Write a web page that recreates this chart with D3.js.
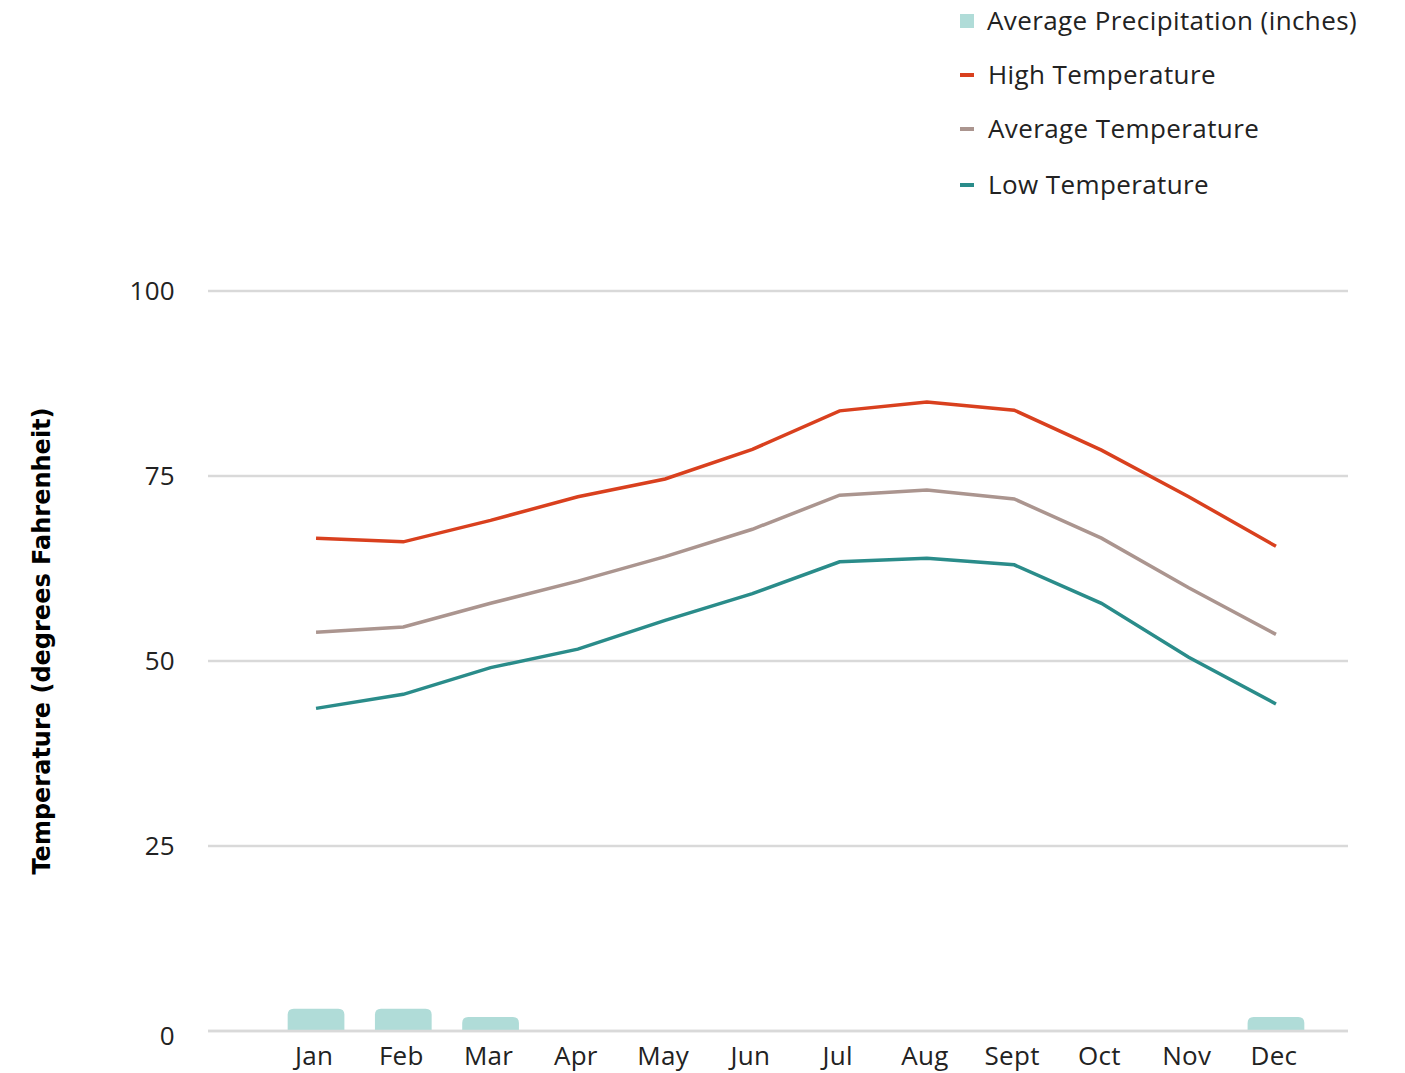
<!DOCTYPE html>
<html>
  <head>
    <meta charset="utf-8">
    <script src="https://d3js.org/d3.v7.min.js"></script>
    <style>
      body { margin: 0; background: #fff; }
      text { font-family: 'Open Sans', Lato, sans-serif; fill: #222; }
    </style>
  </head>
  <body>
    <svg></svg>
    <script type="text/javascript">
      const months = ['Jan', 'Feb', 'Mar', 'Apr', 'May', 'Jun', 'Jul', 'Aug', 'Sept', 'Oct', 'Nov', 'Dec']
      const highTemp = [66.6, 66.1, 69.0, 72.2, 74.6, 78.6, 83.8, 85.0, 83.9, 78.5, 72.2, 65.5]
      const avgTemp = [53.9, 54.6, 57.8, 60.8, 64.1, 67.8, 72.4, 73.1, 71.9, 66.6, 59.9, 53.6]
      const lowTemp = [43.6, 45.5, 49.1, 51.6, 55.5, 59.1, 63.4, 63.9, 63.0, 57.8, 50.5, 44.2]
      const precip = [3.0, 3.0, 1.9, 0, 0, 0, 0, 0, 0, 0, 0, 1.9]
      const yTicks = [0, 25, 50, 75, 100]

      const width = 1405
      const height = 1073

      const svg =
        d3.select('svg')
          .attr('width', width)
          .attr('height', height)

      const x =
        d3.scaleBand()
          .domain(months)
          .range([272.4, 1319.6])
          .paddingInner(0.35)
          .paddingOuter(0.175)

      const y =
        d3.scaleLinear()
          .domain([0, 100])
          .range([1031, 291])

      const cx = m => x(m) + x.bandwidth() / 2

      // gridlines + y labels
      svg.selectAll('.grid')
        .data(yTicks)
        .enter()
        .append('line')
          .attr('class', 'grid')
          .attr('x1', 208)
          .attr('x2', 1348)
          .attr('y1', d => y(d))
          .attr('y2', d => y(d))
          .attr('stroke', '#d9d9d9')
          .attr('stroke-width', 2.5)

      svg.selectAll('.y_label')
        .data(yTicks)
        .enter()
        .append('text')
          .attr('class', 'y_label')
          .attr('x', 175)
          .attr('y', d => y(d) + (d === 0 ? 5 : 0))
          .attr('dy', '0.35em')
          .attr('text-anchor', 'end')
          .attr('font-size', 26)
          .attr('letter-spacing', 0.3)
          .text(d => d)

      svg.append('text')
        .attr('transform', 'translate(50,641) rotate(-90)')
        .attr('text-anchor', 'middle')
        .attr('font-size', 24)
        .attr('font-weight', 'bold')
        .style('font-family', "'DejaVu Sans', sans-serif")
        .style('fill', '#000')
        .text('Temperature (degrees Fahrenheit)')

      // precipitation bars (rounded top)
      const r = 6
      svg.selectAll('.bar')
        .data(months.map((m, i) => ({m, v: precip[i]})).filter(d => d.v > 0))
        .enter()
        .append('path')
          .attr('class', 'bar')
          .attr('fill', '#b0dcd8')
          .attr('d', d => {
            const x0 = x(d.m), x1 = x0 + x.bandwidth()
            const y0 = y(0), y1 = y(d.v)
            return `M${x0},${y0}V${y1 + r}Q${x0},${y1} ${x0 + r},${y1}H${x1 - r}Q${x1},${y1} ${x1},${y1 + r}V${y0}Z`
          })

      // baseline redrawn over bars
      svg.append('line')
        .attr('x1', 208).attr('x2', 1348)
        .attr('y1', y(0)).attr('y2', y(0))
        .attr('stroke', '#d9d9d9')
        .attr('stroke-width', 2.5)

      const series = [
        {name: 'High Temperature', values: highTemp, color: '#d9401e'},
        {name: 'Average Temperature', values: avgTemp, color: '#ab958f'},
        {name: 'Low Temperature', values: lowTemp, color: '#2a8c8a'}
      ]

      const line =
        d3.line()
          .x((d, i) => cx(months[i]))
          .y(d => y(d))

      svg.selectAll('.series')
        .data(series)
        .enter()
        .append('path')
          .attr('class', 'series')
          .attr('fill', 'none')
          .attr('stroke', d => d.color)
          .attr('stroke-width', 3.5)
          .attr('d', d => line(d.values))

      // x labels
      svg.selectAll('.x_label')
        .data(months)
        .enter()
        .append('text')
          .attr('class', 'x_label')
          .attr('x', d => cx(d) - 2)
          .attr('y', 1056)
          .attr('dy', '0.35em')
          .attr('text-anchor', 'middle')
          .attr('font-size', 26)
          .attr('letter-spacing', 0.3)
          .text(d => d)

      // legend
      const legend = [
        {label: 'Average Precipitation (inches)', color: '#b0dcd8', y: 21, box: true},
        {label: 'High Temperature', color: '#d9401e', y: 75},
        {label: 'Average Temperature', color: '#ab958f', y: 129},
        {label: 'Low Temperature', color: '#2a8c8a', y: 185}
      ]

      const lg = svg.selectAll('.legend')
        .data(legend)
        .enter()
        .append('g')
          .attr('class', 'legend')
          .attr('transform', d => `translate(960,${d.y})`)

      lg.append('rect')
        .attr('x', 0)
        .attr('y', d => d.box ? -7 : -2)
        .attr('width', 14)
        .attr('height', d => d.box ? 14 : 4)
        .attr('fill', d => d.color)

      lg.append('text')
        .attr('x', d => d.box ? 27 : 28)
        .attr('dy', '0.35em')
        .attr('font-size', 26)
        .attr('letter-spacing', 0.4)
        .text(d => d.label)
    </script>
  </body>
</html>
